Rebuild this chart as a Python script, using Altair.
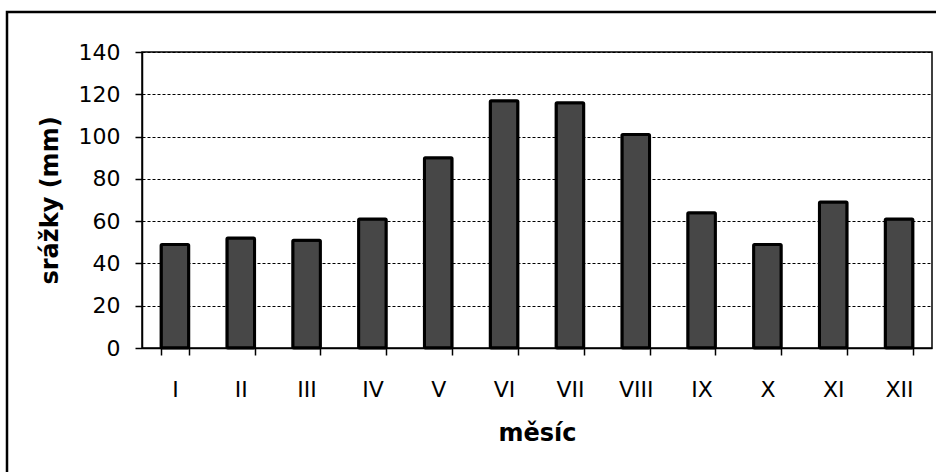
import altair as alt
import pandas as pd

# Monthly precipitation totals (mm)
months = ["I", "II", "III", "IV", "V", "VI", "VII", "VIII", "IX", "X", "XI", "XII"]
precip = [49, 52, 51, 61, 90, 117, 116, 101, 64, 49, 69, 61]
y_ticks = [0, 20, 40, 60, 80, 100, 120, 140]

df = pd.DataFrame({"mesic": months, "srazky": precip})

FONT = "DejaVu Sans"

bars = alt.Chart(df).mark_bar(
    color="#474747",
    stroke="#000000",
    strokeWidth=3,
    cornerRadius=1,
).encode(
    x=alt.X(
        "mesic:N",
        sort=months,
        scale=alt.Scale(paddingInner=0.58, paddingOuter=0.29),
        axis=alt.Axis(
            title="měsíc",
            labelAngle=0,
            labelFont=FONT,
            labelFontSize=22,
            labelColor="#000000",
            labelBaseline="top",
            labelPadding=24,
            tickBand="extent",
            tickSize=7,
            tickColor="#000000",
            tickWidth=1.5,
            domainColor="#000000",
            domainWidth=1.5,
            grid=False,
            titleFont=FONT,
            titleFontSize=24,
            titleFontWeight="bold",
            titleColor="#000000",
            titleBaseline="alphabetic",
            titleY=92,
        ),
    ),
    y=alt.Y(
        "srazky:Q",
        scale=alt.Scale(domain=[0, 140], nice=False),
        axis=alt.Axis(
            title="srážky (mm)",
            values=y_ticks,
            labelFont=FONT,
            labelFontSize=22,
            labelColor="#000000",
            labelPadding=15,
            tickSize=7,
            tickColor="#000000",
            tickWidth=1.5,
            domainColor="#000000",
            domainWidth=1.5,
            grid=True,
            gridColor="#000000",
            gridDash=[3, 2],
            gridWidth=1,
            titleFont=FONT,
            titleFontSize=24,
            titleFontWeight="bold",
            titleColor="#000000",
            titleAngle=-90,
            titleBaseline="middle",
            titleX=-92,
        ),
    ),
)

# Outer frame around the whole figure
frame = alt.Chart(pd.DataFrame({"k": [0]})).mark_rect(
    fill="transparent", stroke="#000000", strokeWidth=2.5
).encode(
    x=alt.value(-135),
    x2=alt.value(810),
    y=alt.value(-40),
    y2=alt.value(440),
)

chart = alt.layer(frame, bars).properties(
    width=790,
    height=296,
    autosize=alt.AutoSizeParams(type="none"),
    padding={"left": 142, "top": 52, "right": 4, "bottom": 124},
    background="#ffffff",
).configure_view(
    stroke="#000000",
    strokeWidth=1.5,
)

chart.save("out.html", embed_options={"renderer": "svg", "actions": False})
